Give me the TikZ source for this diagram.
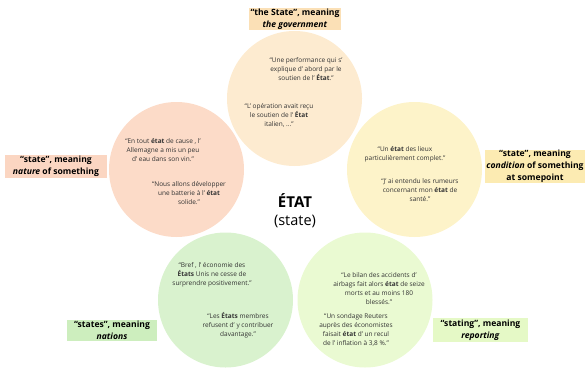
\documentclass[tikz,border=0pt]{standalone}
\usepackage{fontspec}
\setmainfont{Open Sans}
\definecolor{cTop}{HTML}{FDEBD0}
\definecolor{cLeft}{HTML}{FCDBC8}
\definecolor{cRight}{HTML}{FDF3C9}
\definecolor{cBL}{HTML}{D9F2CE}
\definecolor{cBR}{HTML}{EAFAD2}
\definecolor{lTop}{HTML}{FBE0B6}
\definecolor{lLeft}{HTML}{FBD6C2}
\definecolor{lRight}{HTML}{FCEBB2}
\definecolor{lBL}{HTML}{CDEEBE}
\definecolor{lBR}{HTML}{E5F9C6}
\definecolor{txt}{HTML}{333333}
\begin{document}
\begin{tikzpicture}[x=1pt,y=-1pt,
  bubble/.style={circle,minimum size=135pt,inner sep=0pt},
  quote/.style={font=\fontsize{6.5}{9}\selectfont,align=center,inner sep=0pt,text=txt},
  tag/.style={font=\fontsize{8.6}{12}\selectfont\bfseries,align=center,inner sep=0pt,text=black}]
\useasboundingbox (0,0) rectangle (585,367);
% circles
\node[bubble,fill=cTop] (ctop) at (294.5,98.5) {};
\node[bubble,fill=cLeft] (cleft) at (176.5,169.5) {};
\node[bubble,fill=cRight] (cright) at (414.5,169.5) {};
\node[bubble,fill=cBL] (cbl) at (225.5,300) {};
\node[bubble,fill=cBR] (cbr) at (365,300) {};
% tags
\fill[lTop] (249,8) rectangle (341,30);
\node[tag] (ttop) at (295,19) {“the State”, meaning\\\textit{the government}};
\fill[lLeft] (5,155) rectangle (107,178);
\node[tag] (tleft) at (56,166.5) {“state”, meaning\\\textit{nature} of something};
\fill[lRight] (485,150) rectangle (585,183);
\node[tag] (tright) at (535,166.5) {“state”, meaning\\\textit{condition} of something\\at somepoint};
\fill[lBL] (67,320) rectangle (157,341);
\node[tag] (tbl) at (112,330.5) {“states”, meaning\\\textit{nations}};
\fill[lBR] (433,318) rectangle (528,342);
\node[tag] (tbr) at (480.5,330) {“stating”, meaning\\\textit{reporting}};
% center
\node[font=\fontsize{15}{18}\selectfont\bfseries,inner sep=0pt] (etat) at (295,201) {ÉTAT};
\node[font=\fontsize{14.5}{18}\selectfont,inner sep=0pt] (state) at (295,221) {(state)};
% quotes
\node[quote] (q1) at (306,69) {“Une performance qui s'\\explique d' abord par le\\soutien de l' \textbf{État}.”};
\node[quote] (q2) at (279,115) {“L' opération avait reçu\\le soutien de l' \textbf{État}\\italien, ...”};
\node[quote] (q3) at (163,150) {“En tout \textbf{état} de cause , l'\\Allemagne a mis un peu\\d' eau dans son vin.”};
\node[quote] (q4) at (189,193) {“Nous allons développer\\une batterie à l' \textbf{état}\\solide.”};
\node[quote] (q5) at (405,154.5) {“Un \textbf{état} des lieux\\particulièrement complet.”};
\node[quote] (q6) at (420,190) {“J' ai entendu les rumeurs\\concernant mon \textbf{état} de\\santé.”};
\node[quote] (q7) at (212,275) {“Bref , l' économie des\\\textbf{États} Unis ne cesse de\\surprendre positivement.”};
\node[quote] (q8) at (238,325) {“Les \textbf{États} membres\\refusent d' y contribuer\\davantage.”};
\node[quote] (q9) at (379,288.5) {“Le bilan des accidents d'\\airbags fait alors \textbf{état} de seize\\morts et au moins 180\\blessés.”};
\node[quote] (q10) at (356,330) {“Un sondage Reuters\\auprès des économistes\\faisait \textbf{état} d' un recul\\de l' inflation à 3,8 \%.”};
\end{tikzpicture}
\end{document}
